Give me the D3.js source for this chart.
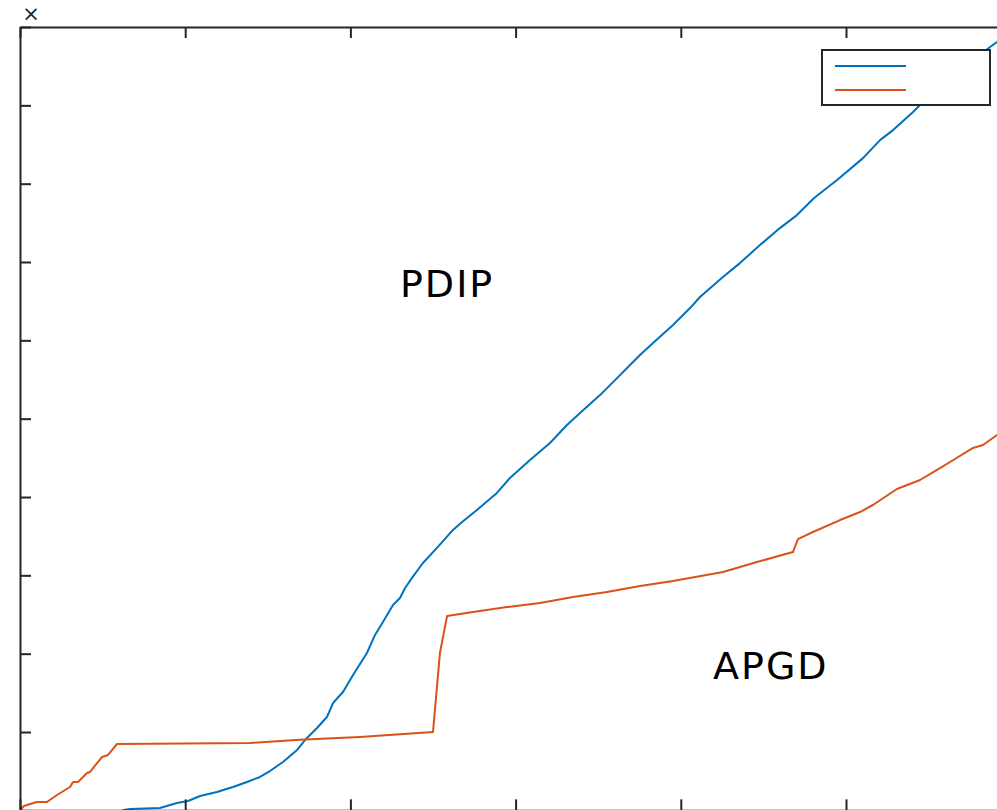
<!DOCTYPE html>
<html>
<head>
<meta charset="utf-8">
<script src="https://cdn.jsdelivr.net/npm/d3@7"></script>
<style>
  html, body { margin: 0; padding: 0; background: #fff; overflow: hidden; }
  svg { display: block; }
</style>
</head>
<body>
<section></section>
<script>
// series values (x in tick units, y in tick units)
var pdipX = [0.62, 0.666, 0.847, 0.950, 1.017, 1.090, 1.192, 1.289, 1.374, 1.453, 1.513, 1.592, 1.677, 1.725, 1.798, 1.858, 1.895, 1.955, 2.016, 2.100, 2.149, 2.197, 2.258, 2.300, 2.331, 2.373, 2.439, 2.524, 2.621, 2.676, 2.766, 2.887, 2.966, 3.087, 3.208, 3.311, 3.390, 3.511, 3.614, 3.753, 3.832, 3.953, 4.056, 4.116, 4.255, 4.358, 4.479, 4.600, 4.703, 4.807, 4.946, 5.103, 5.206, 5.285, 5.406, 5.508, 5.690, 5.872, 5.914, 5.999];
var pdipY = [0.0, 0.017, 0.030, 0.094, 0.119, 0.183, 0.234, 0.298, 0.362, 0.426, 0.502, 0.617, 0.770, 0.898, 1.051, 1.192, 1.370, 1.511, 1.728, 2.009, 2.239, 2.405, 2.622, 2.711, 2.839, 2.967, 3.158, 3.350, 3.580, 3.682, 3.835, 4.052, 4.244, 4.473, 4.690, 4.920, 5.073, 5.301, 5.518, 5.812, 5.965, 6.195, 6.412, 6.553, 6.808, 6.986, 7.216, 7.433, 7.599, 7.816, 8.046, 8.326, 8.556, 8.684, 8.914, 9.131, 9.450, 9.744, 9.808, 9.961];

var apgdX = [0, 0.024, 0.061, 0.103, 0.163, 0.224, 0.303, 0.321, 0.351, 0.406, 0.424, 0.496, 0.533, 0.587, 1.392, 1.695, 2.058, 2.500, 2.542, 2.585, 2.742, 2.948, 3.148, 3.347, 3.553, 3.753, 3.953, 4.256, 4.461, 4.679, 4.709, 4.800, 4.964, 5.085, 5.163, 5.308, 5.448, 5.569, 5.630, 5.769, 5.829, 5.914, 5.999];
var apgdY = [0, 0.056, 0.081, 0.107, 0.107, 0.196, 0.298, 0.362, 0.362, 0.477, 0.490, 0.681, 0.707, 0.847, 0.860, 0.900, 0.936, 1.000, 2.008, 2.480, 2.531, 2.595, 2.646, 2.723, 2.787, 2.863, 2.927, 3.042, 3.170, 3.297, 3.463, 3.553, 3.706, 3.808, 3.898, 4.102, 4.217, 4.370, 4.447, 4.626, 4.664, 4.792, 4.920];

var xTicks = [0, 1, 2, 3, 4, 5, 6];
var yTicks = [0, 1, 2, 3, 4, 5, 6, 7, 8, 9, 10];
var seriesNames = ["PDIP", "APGD"];
var colors = ["#0072BD", "#D95319"];

var W = 997, H = 810;
var margin = {top: 27, left: 20};
var width = 6 * 165.2, height = 783.35;

var svg = d3.select("section").append("svg")
    .attr("width", W)
    .attr("height", H),
  g = svg.append("g")
    .attr("transform", "translate(" + margin.left + "," + margin.top + ")");

var x = d3.scaleLinear().domain([0, 6]).range([0, width]);
var y = d3.scaleLinear().domain([0, 10]).range([height, 0]);

g.append("clipPath").attr("id", "clip")
  .append("rect").attr("width", width).attr("height", height);

var line = d3.line()
  .x(function(d) { return x(d[0]); })
  .y(function(d) { return y(d[1]); });

var pdip = pdipX.map(function(v, i) { return [v, pdipY[i]]; });
var apgd = apgdX.map(function(v, i) { return [v, apgdY[i]]; });

var plot = g.append("g").attr("clip-path", "url(#clip)");
[pdip, apgd].forEach(function(s, i) {
  plot.append("path")
    .datum(s)
    .attr("fill", "none")
    .attr("stroke", colors[i])
    .attr("stroke-width", 2)
    .attr("stroke-linejoin", "round")
    .attr("d", line);
});

// axes, ticks pointing inward, labels are out of frame
var axisCol = "#262626";
var axTop = g.append("g")
  .call(d3.axisTop(x).tickValues(xTicks).tickSizeInner(-11).tickSizeOuter(0).tickFormat(""));
var axLeft = g.append("g")
  .call(d3.axisLeft(y).tickValues(yTicks).tickSizeInner(-11).tickSizeOuter(0).tickFormat(""));
var axRight = g.append("g").attr("transform", "translate(" + width + ",0)")
  .call(d3.axisRight(y).tickValues(yTicks).tickSizeInner(-11).tickSizeOuter(0).tickFormat(""));
var axBottom = g.append("g").attr("transform", "translate(0," + height + ")")
  .call(d3.axisBottom(x).tickValues(xTicks).tickSizeInner(-11).tickSizeOuter(0).tickFormat(""));
[axTop, axLeft, axRight, axBottom].forEach(function(a) {
  a.selectAll("path, line").attr("stroke", axisCol).attr("stroke-width", 2);
});

// exponent marker
svg.append("text")
  .attr("x", 31).attr("y", 21)
  .attr("text-anchor", "middle")
  .attr("font-family", "DejaVu Sans, sans-serif")
  .attr("font-size", 21)
  .attr("fill", axisCol)
  .text("×");

// in-plot labels
g.append("text")
  .attr("x", x(2.3)).attr("y", y(6.55))
  .attr("font-family", "DejaVu Sans, sans-serif")
  .attr("font-size", 38)
  .attr("letter-spacing", 2)
  .attr("fill", "#000")
  .text(seriesNames[0]);
g.append("text")
  .attr("x", x(4.195)).attr("y", y(1.68))
  .attr("font-family", "DejaVu Sans, sans-serif")
  .attr("font-size", 38)
  .attr("letter-spacing", 2)
  .attr("fill", "#000")
  .text(seriesNames[1]);

// legend (entries' text is out of frame)
var legend = svg.append("g").attr("transform", "translate(822,50)");
legend.append("rect")
  .attr("width", 168).attr("height", 55)
  .attr("fill", "#fff")
  .attr("stroke", axisCol)
  .attr("stroke-width", 2);
colors.forEach(function(c, i) {
  legend.append("line")
    .attr("x1", 13).attr("x2", 84)
    .attr("y1", 16 + i * 24).attr("y2", 16 + i * 24)
    .attr("stroke", c)
    .attr("stroke-width", 2);
});
</script>
</body>
</html>
